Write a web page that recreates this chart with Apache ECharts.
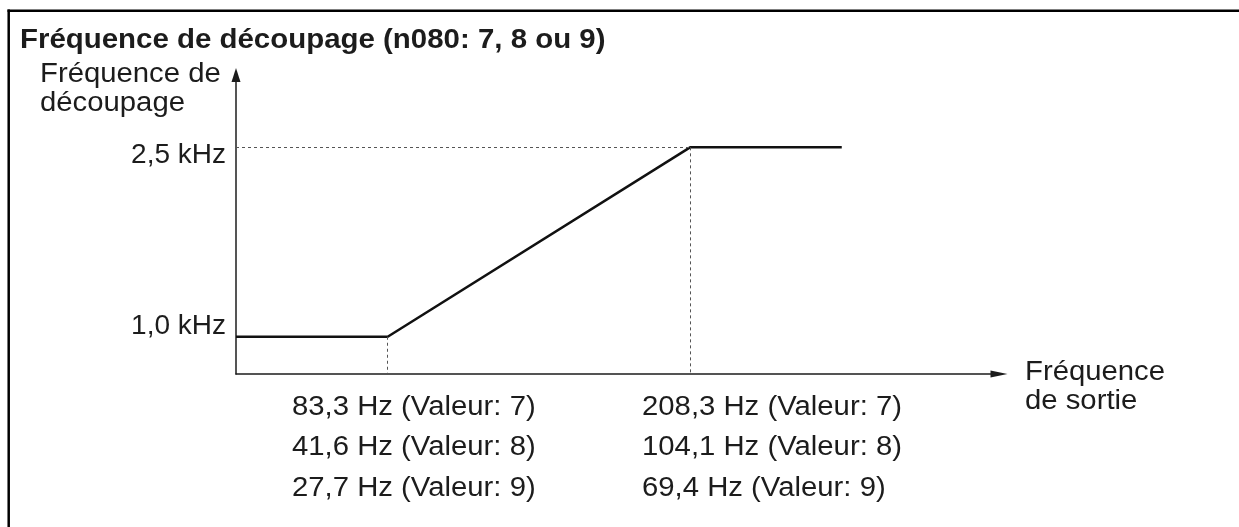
<!DOCTYPE html>
<html>
<head>
<meta charset="utf-8">
<script src="https://cdn.jsdelivr.net/npm/echarts@6/dist/echarts.min.js"></script>
<style>
  html, body { margin: 0; padding: 0; background: #fff; }
  #chart { width: 1239px; height: 527px; }
</style>
</head>
<body>
<div id="chart"></div>
<script>
// Carrier frequency versus output frequency (n080 = 7, 8 or 9)
const titleText = 'Fréquence de découpage (n080: 7, 8 ou 9)';
const yAxisName = ['Fréquence de', 'découpage'];
const xAxisName = ['Fréquence', 'de sortie'];

// Parameter settings and the matching break frequencies (Hz)
const settings = [7, 8, 9];
const lowBreakHz = [83.3, 41.6, 27.7];
const highBreakHz = [208.3, 104.1, 69.4];

// Carrier frequency levels (kHz) and their labels
const carrierKHz = [1.0, 2.5];
const carrierLabels = ['1,0 kHz', '2,5 kHz'];

// Axis extents (schematic, scaled on the n080 = 7 frequencies)
const xMin = 20.6, xMax = 336, plateauEndHz = 271;
const yMin = 0.705, yMax = 3.073;

// Curve drawn with the n080 = 7 break points
const curveX = [xMin, lowBreakHz[0], highBreakHz[0], plateauEndHz];
const curveY = [carrierKHz[0], carrierKHz[0], carrierKHz[1], carrierKHz[1]];

const fmtHz = v => v.toFixed(1).replace('.', ',') + ' Hz';
const lowRows = settings.map((s, i) => fmtHz(lowBreakHz[i]) + ' (Valeur: ' + s + ')');
const highRows = settings.map((s, i) => fmtHz(highBreakHz[i]) + ' (Valeur: ' + s + ')');

const FONT = '"Liberation Sans", Arial, sans-serif';
const INK = '#1c1c1c';

// Text block anchored at its left edge, widened slightly like the printed face
function txt(text, x, y, size, weight, stretch) {
  return {
    type: 'text', x: x, y: y, silent: true,
    scaleX: stretch || 1.085,
    style: {
      text: text, fill: INK,
      font: (weight || 'normal') + ' ' + size + 'px ' + FONT,
      textAlign: 'left', textVerticalAlign: 'middle'
    }
  };
}

const graphics = [
  // frame
  { type: 'line', silent: true, shape: { x1: 7.5, y1: 10.7, x2: 1239, y2: 10.7 }, style: { stroke: '#000', lineWidth: 2.5 } },
  { type: 'line', silent: true, shape: { x1: 8.7, y1: 9.5, x2: 8.7, y2: 527 }, style: { stroke: '#000', lineWidth: 2.5 } },
  txt(titleText, 20, 41, 27, 'bold', 1.09),
  txt(yAxisName[0], 40, 75, 27),
  txt(yAxisName[1], 40, 104, 27),
  txt(xAxisName[0], 1025, 373, 27),
  txt(xAxisName[1], 1025, 402, 27)
];
const rowY = [408, 448, 489];
lowRows.forEach((t, i) => graphics.push(txt(t, 292, rowY[i], 27)));
highRows.forEach((t, i) => graphics.push(txt(t, 642, rowY[i], 27)));

const chart = echarts.init(document.getElementById('chart'), null, { renderer: 'canvas' });
chart.setOption({
  animation: false,
  backgroundColor: '#fff',
  grid: { left: 236, right: 240, top: 75, bottom: 153 },
  xAxis: {
    type: 'value', min: xMin, max: xMax,
    axisLine: { show: true, symbol: ['none', 'triangle'], symbolSize: [7, 17], lineStyle: { color: INK, width: 1.5 } },
    axisTick: { show: false }, axisLabel: { show: false }, splitLine: { show: false }
  },
  yAxis: {
    type: 'value', min: yMin, max: yMax,
    axisLine: { show: true, symbol: ['none', 'triangle'], symbolSize: [9, 14], lineStyle: { color: INK, width: 1.5 } },
    axisTick: { show: false }, splitLine: { show: false },
    axisLabel: {
      customValues: carrierKHz,
      margin: 10,
      color: INK, fontFamily: FONT, fontSize: 28,
      formatter: v => {
        const i = carrierKHz.indexOf(v);
        return i === 1 ? '{lo|' + carrierLabels[i] + '}' : '{hi|' + carrierLabels[i] + '}';
      },
      rich: {
        lo: { fontFamily: FONT, fontSize: 28, color: INK, padding: [16, 0, 0, 0] },
        hi: { fontFamily: FONT, fontSize: 28, color: INK, padding: [0, 0, 20, 0] }
      }
    }
  },
  series: [{
    type: 'line',
    data: curveX.map((x, i) => [x, curveY[i]]),
    symbol: 'none',
    lineStyle: { color: '#111', width: 2.5 },
    markLine: {
      silent: true, symbol: 'none', label: { show: false },
      lineStyle: { color: '#555', width: 1, type: [3, 3] },
      data: [
        [{ coord: [xMin, carrierKHz[1]] }, { coord: [highBreakHz[0], carrierKHz[1]] }],
        [{ coord: [highBreakHz[0], carrierKHz[1]] }, { coord: [highBreakHz[0], yMin] }],
        [{ coord: [lowBreakHz[0], carrierKHz[0]] }, { coord: [lowBreakHz[0], yMin] }]
      ]
    }
  }],
  graphic: graphics
});
</script>
</body>
</html>
